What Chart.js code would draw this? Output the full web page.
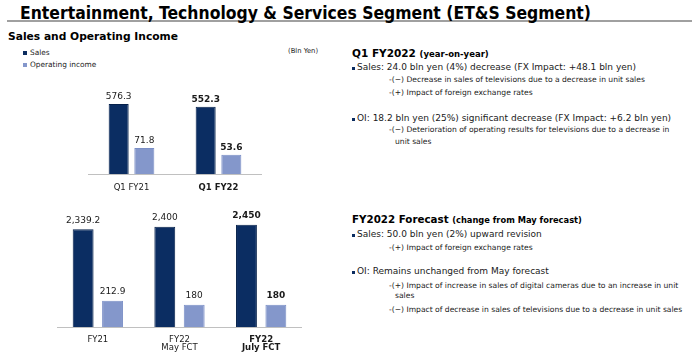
<!DOCTYPE html>
<html>
<head>
<meta charset="utf-8">
<script src="https://cdn.jsdelivr.net/npm/chart.js@4.4.0/dist/chart.umd.min.js"></script>
<style>
  body { margin: 0; width: 700px; height: 359px; background: #fff; position: relative; overflow: hidden;
         font-family: "DejaVu Sans", Verdana, sans-serif; color: #1a1a1a; }
  .abs { position: absolute; white-space: nowrap; }
  .m { font-size: 9px; line-height: 9px; }
  .s { font-size: 7.6px; line-height: 7.6px; }
  .sq { position: absolute; width: 3px; height: 3px; background: #0b2c5f; }
  canvas { position: absolute; }
</style>
</head>
<body>

<div class="abs" id="title" style="left:20px; top:4.5px; font: bold 17.4px/17.4px 'DejaVu Sans Condensed', 'DejaVu Sans'; color:#000; z-index:2">Entertainment, Technology &amp; Services Segment (ET&amp;S Segment)</div>
<div class="abs" style="left:7px; top:20px; width:685px; height:2px; background:#a0a0a0"></div>

<div class="abs" style="left:8px; top:32px; font: bold 10.7px/10.7px 'DejaVu Sans'; color:#000">Sales and Operating Income</div>
<div class="sq" style="left:23px; top:51px; width:3.5px; height:3.5px"></div>
<div class="abs" style="left:30px; top:49px; font-size:7.4px; line-height:7.4px">Sales</div>
<div class="sq" style="left:23px; top:63px; width:3.5px; height:3.5px; background:#8497cb"></div>
<div class="abs" style="left:30px; top:61px; font-size:7.4px; line-height:7.4px">Operating income</div>
<div class="abs" style="left:288px; top:48px; font-size:6.8px; line-height:6.8px">(Bln Yen)</div>

<div class="abs" style="left:352px; top:48px; font: bold 10.5px/10.5px 'DejaVu Sans'; color:#000">Q1 FY2022 <span style="font-size:8.5px">(year-on-year)</span></div>
<div class="sq" style="left:352px; top:67px"></div>
<div class="abs m" style="left:357px; top:63px">Sales: 24.0 bln yen (4%) decrease (FX Impact: +48.1 bln yen)</div>
<div class="abs s" style="left:389px; top:76px">-(&minus;) Decrease in sales of televisions due to a decrease in unit sales</div>
<div class="abs s" style="left:389px; top:88.5px">-(+) Impact of foreign exchange rates</div>
<div class="sq" style="left:352px; top:117.5px"></div>
<div class="abs m" style="left:357px; top:113.5px">OI: 18.2 bln yen (25%) significant decrease (FX Impact: +6.2 bln yen)</div>
<div class="abs s" style="left:389px; top:126px">-(&minus;) Deterioration of operating results for televisions due to a decrease in</div>
<div class="abs s" style="left:395px; top:137.5px">unit sales</div>

<div class="abs" style="left:352px; top:214px; font: bold 10.3px/10.3px 'DejaVu Sans'; color:#000">FY2022 Forecast <span style="font-size:8.3px">(change from May forecast)</span></div>
<div class="sq" style="left:352px; top:233.5px"></div>
<div class="abs m" style="left:357px; top:229.5px">Sales: 50.0 bln yen (2%) upward revision</div>
<div class="abs s" style="left:389px; top:244px">-(+) Impact of foreign exchange rates</div>
<div class="sq" style="left:352px; top:271px"></div>
<div class="abs m" style="left:357px; top:267px">OI: Remains unchanged from May forecast</div>
<div class="abs s" style="left:389px; top:282px">-(+) Impact of increase in sales of digital cameras due to an increase in unit</div>
<div class="abs s" style="left:395px; top:292px">sales</div>
<div class="abs s" style="left:389px; top:305.5px">-(&minus;) Impact of decrease in sales of televisions due to a decrease in unit sales</div>

<canvas id="q1" style="left:88px; top:70px; width:174px; height:130px"></canvas>
<canvas id="fy" style="left:57px; top:205px; width:245px; height:150px"></canvas>

<script>
const q1Labels = ["Q1 FY21", "Q1 FY22"]
const q1Sales = [576.3, 552.3]
const q1OI = [71.8, 53.6]

const fyLabels = ["FY21", ["FY22", "May FCT"], ["FY22", "July FCT"]]
const fySales = [2339.2, 2400, 2450]
const fyOI = [212.9, 180, 180]

const SALES_COLOR = "#0b2d62"
const OI_COLOR = "#8497cb"

// writes the value above each bar, bold for the highlighted column
const valueLabels = {
    id: "valueLabels",
    afterDatasetsDraw(chart, args, opts) {
        const ctx = chart.ctx
        ctx.save()
        ctx.textAlign = "center"
        ctx.textBaseline = "alphabetic"
        ctx.fillStyle = "#1a1a1a"
        chart.data.datasets.forEach((ds, i) => {
            chart.getDatasetMeta(i).data.forEach((bar, j) => {
                const bold = j === opts.bold
                ctx.font = (bold ? "bold " : "") + "9px 'DejaVu Sans'"
                ctx.fillText(opts.format(ds.data[j]), bar.x, bar.y - opts.gap)
            })
        })
        ctx.restore()
    }
}

const makeChart = function(id, labels, sales, oi, salesMax, oiMax, boldIndex, catPct, barPct, axisHeight, pad, gap, format) {
    return new Chart(document.getElementById(id), {
        type: "bar",
        data: {
            labels: labels,
            datasets: [{
                label: "Sales",
                data: sales,
                yAxisID: "ySales",
                backgroundColor: SALES_COLOR,
                borderColor: "#06214b",
                borderWidth: 1,
                categoryPercentage: catPct,
                barPercentage: barPct
            }, {
                label: "Operating income",
                data: oi,
                yAxisID: "yOI",
                backgroundColor: OI_COLOR,
                borderColor: "#7a8ec6",
                borderWidth: 1,
                categoryPercentage: catPct,
                barPercentage: barPct
            }]
        },
        options: {
            responsive: false,
            animation: false,
            layout: { padding: 0 },
            plugins: {
                legend: { display: false },
                tooltip: { enabled: false },
                valueLabels: { bold: boldIndex, gap: gap, format: format }
            },
            scales: {
                x: {
                    grid: { display: false, drawTicks: false },
                    border: { display: true, color: "#c0c0c0", width: 1 },
                    ticks: {
                        color: "#1a1a1a",
                        padding: pad,
                        maxRotation: 0,
                        autoSkip: false,
                        font: (c) => ({ family: "'DejaVu Sans'", size: 8.5, lineHeight: 1.0, weight: c.index === boldIndex ? "bold" : "normal" })
                    },
                    afterFit: (scale) => { scale.height = axisHeight }
                },
                ySales: { display: false, min: 0, max: salesMax },
                yOI: { display: false, min: 0, max: oiMax }
            }
        },
        plugins: [valueLabels]
    })
}

const plain = (v) => v.toFixed(1)
const grouped = (v) => Number.isInteger(v) ? v.toLocaleString("en-US") : v.toLocaleString("en-US", { minimumFractionDigits: 1 })

makeChart("q1", q1Labels, q1Sales, q1OI, 855, 288, 1, 0.59, 0.78, 26, 9.5, 5, plain)
makeChart("fy", fyLabels, fySales, fyOI, 2922, 990, 2, 0.72, 0.71, 28, 8.5, 6.5, grouped)
</script>
</body>
</html>
